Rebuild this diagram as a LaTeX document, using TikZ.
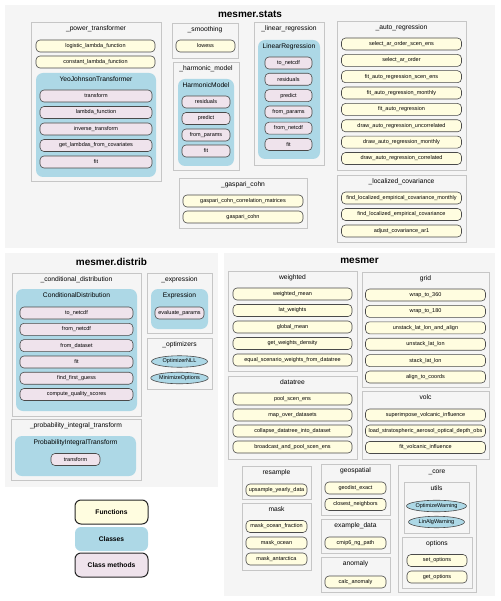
\documentclass[tikz,border=0pt]{standalone}
\usepackage{fontspec}
\setmainfont{Liberation Sans}
\usepackage{xcolor}
\usepackage{tikz}
\usetikzlibrary{shapes.geometric, fit, positioning}
\definecolor{panelbg}{HTML}{F5F5F5}
\definecolor{grpline}{HTML}{C6C6C6}
\definecolor{fnfill}{HTML}{FFFDE0}
\definecolor{clsfill}{HTML}{ADD8E6}
\definecolor{methfill}{HTML}{EFE3EC}
\definecolor{edge}{HTML}{4A4A4A}
\tikzset{
  panel/.style={rectangle, fill=panelbg, inner sep=0pt},
  group/.style={rectangle, draw=grpline, fill=panelbg, line width=0.7pt, inner sep=0pt},
  cls/.style={rectangle, rounded corners=7pt, fill=clsfill, inner sep=0pt},
  func/.style={rectangle, rounded corners=4pt, draw=edge, fill=fnfill, line width=0.6pt, minimum height=12pt, inner sep=0pt, font=\fontsize{5.5}{6.5}\selectfont},
  meth/.style={func, fill=methfill},
  exc/.style={ellipse, draw=edge, fill=clsfill, line width=0.6pt, minimum height=11.5pt, inner sep=0pt, font=\fontsize{5.5}{6.5}\selectfont},
  ptitle/.style={inner sep=0pt, font=\fontsize{10}{12}\selectfont\bfseries},
  gtitle/.style={inner sep=0pt, text height=4.8pt, text depth=1.3pt, font=\fontsize{6.7}{8}\selectfont},
  legend/.style={rectangle, rounded corners=6pt, draw=black!85, line width=1pt, minimum width=73pt, minimum height=24pt, font=\fontsize{6.7}{8}\selectfont\bfseries},
}

\begin{document}
\begin{tikzpicture}[x=1pt, y=-1pt]
\useasboundingbox (0,0) rectangle (500,601);

% mesmer.stats
\node[panel, fit={(5,5) (495,248)}] (stats) {};
\node[ptitle, below=5.5pt of stats.north] (statsT) {mesmer.stats};

\node[group, fit={(31,22) (161,181)}] (powtr) {};
\node[gtitle, below=4pt of powtr.north] (powtrT) {\_power\_transformer};
\node[func, minimum width=119pt] (logistic) at (95.5,46) {logistic\_lambda\_function};
\node[func, minimum width=119pt] (constant) at (95.5,62) {constant\_lambda\_function};
\node[cls, fit={(36,73) (156,177)}] (yeojt) {};
\node[gtitle, below=4pt of yeojt.north] (yeojtT) {YeoJohnsonTransformer};
\node[meth, minimum width=112pt] (yjtransform) at (96,96) {transform};
\node[meth, minimum width=112pt] (yjlambda) at (96,112.5) {lambda\_function};
\node[meth, minimum width=112pt] (yjinverse) at (96,129) {inverse\_transform};
\node[meth, minimum width=112pt] (yjlambdas) at (96,145.5) {get\_lambdas\_from\_covariates};
\node[meth, minimum width=112pt] (yjfit) at (96,162) {fit};

\node[group, fit={(172,23) (238,58)}] (smooth) {};
\node[gtitle, below=4pt of smooth.north] (smoothT) {\_smoothing};
\node[func, minimum width=59pt] (lowess) at (205.5,46) {lowess};

\node[group, fit={(173,62) (239,170)}] (harmod) {};
\node[gtitle, below=4pt of harmod.north] (harmodT) {\_harmonic\_model};
\node[cls, fit={(178,79) (234,166)}] (hmcls) {};
\node[gtitle, below=4pt of hmcls.north] (hmclsT) {HarmonicModel};
\node[meth, minimum width=48pt] (hmresid) at (206,102) {residuals};
\node[meth, minimum width=48pt] (hmpredict) at (206,118.5) {predict};
\node[meth, minimum width=48pt] (hmparams) at (206,135) {from\_params};
\node[meth, minimum width=48pt] (hmfit) at (206,151) {fit};

\node[group, fit={(254,22) (324,165)}] (linreg) {};
\node[gtitle, below=4pt of linreg.north] (linregT) {\_linear\_regression};
\node[cls, fit={(258,40) (320,159)}] (lrcls) {};
\node[gtitle, below=4pt of lrcls.north] (lrclsT) {LinearRegression};
\node[meth, minimum width=47pt] (lrtonc) at (288.5,63) {to\_netcdf};
\node[meth, minimum width=47pt] (lrresid) at (288.5,79.3) {residuals};
\node[meth, minimum width=47pt] (lrpredict) at (288.5,95.6) {predict};
\node[meth, minimum width=47pt] (lrparams) at (288.5,112) {from\_params};
\node[meth, minimum width=47pt] (lrfromnc) at (288.5,128.2) {from\_netcdf};
\node[meth, minimum width=47pt] (lrfit) at (288.5,144.5) {fit};

\node[group, fit={(337,21) (466,170)}] (autoreg) {};
\node[gtitle, below=4pt of autoreg.north] (autoregT) {\_auto\_regression};
\node[func, minimum width=120pt] (arselscen) at (401.5,44) {select\_ar\_order\_scen\_ens};
\node[func, minimum width=120pt] (arsel) at (401.5,60.4) {select\_ar\_order};
\node[func, minimum width=120pt] (arfitscen) at (401.5,76.7) {fit\_auto\_regression\_scen\_ens};
\node[func, minimum width=120pt] (arfitmon) at (401.5,93) {fit\_auto\_regression\_monthly};
\node[func, minimum width=120pt] (arfit) at (401.5,109.4) {fit\_auto\_regression};
\node[func, minimum width=120pt] (ardrawunc) at (401.5,125.8) {draw\_auto\_regression\_uncorrelated};
\node[func, minimum width=120pt] (ardrawmon) at (401.5,142.1) {draw\_auto\_regression\_monthly};
\node[func, minimum width=120pt] (ardrawcor) at (401.5,158.5) {draw\_auto\_regression\_correlated};

\node[group, fit={(337,175) (466,242)}] (loccov) {};
\node[gtitle, below=4pt of loccov.north] (loccovT) {\_localized\_covariance};
\node[func, minimum width=120pt] (lcmon) at (401.5,198) {find\_localized\_empirical\_covariance\_monthly};
\node[func, minimum width=120pt] (lcfind) at (401.5,214.5) {find\_localized\_empirical\_covariance};
\node[func, minimum width=120pt] (lcadjust) at (401.5,231) {adjust\_covariance\_ar1};

\node[group, fit={(179,178) (307,228)}] (gaspari) {};
\node[gtitle, below=4pt of gaspari.north] (gaspariT) {\_gaspari\_cohn};
\node[func, minimum width=120pt] (gcmatrices) at (243,201) {gaspari\_cohn\_correlation\_matrices};
\node[func, minimum width=120pt] (gcfunc) at (243,217) {gaspari\_cohn};

% mesmer.distrib
\node[panel, fit={(5,253) (218,487)}] (distrib) {};
\node[ptitle, below=5.5pt of distrib.north] (distribT) {mesmer.distrib};

\node[group, fit={(12,273) (141,416)}] (conddist) {};
\node[gtitle, below=4pt of conddist.north] (conddistT) {\_conditional\_distribution};
\node[cls, fit={(16,289) (137,411)}] (cdcls) {};
\node[gtitle, below=4pt of cdcls.north] (cdclsT) {ConditionalDistribution};
\node[meth, minimum width=113pt] (cdtonc) at (76.5,313) {to\_netcdf};
\node[meth, minimum width=113pt] (cdfromnc) at (76.5,329.3) {from\_netcdf};
\node[meth, minimum width=113pt] (cdfromds) at (76.5,345.6) {from\_dataset};
\node[meth, minimum width=113pt] (cdfit) at (76.5,362) {fit};
\node[meth, minimum width=113pt] (cdguess) at (76.5,378.2) {find\_first\_guess};
\node[meth, minimum width=113pt] (cdscores) at (76.5,394.5) {compute\_quality\_scores};

\node[group, fit={(147,273) (212,333)}] (expr) {};
\node[gtitle, below=4pt of expr.north] (exprT) {\_expression};
\node[cls, fit={(151,289) (208,329)}] (excls) {};
\node[gtitle, below=4pt of excls.north] (exclsT) {Expression};
\node[meth, minimum width=49pt] (exeval) at (179.5,313) {evaluate\_params};

\node[group, fit={(147,338) (212,389)}] (optim) {};
\node[gtitle, below=4pt of optim.north] (optimT) {\_optimizers};
\node[exc, minimum width=56pt] (optnll) at (179.5,361.5) {OptimizerNLL};
\node[exc, minimum width=56pt] (minopts) at (179.5,378) {MinimizeOptions};

\node[group, fit={(11,419) (141,480)}] (probint) {};
\node[gtitle, below=4pt of probint.north] (probintT) {\_probability\_integral\_transform};
\node[cls, fit={(15,436) (136,476)}] (pitcls) {};
\node[gtitle, below=4pt of pitcls.north] (pitclsT) {ProbabilityIntegralTransform};
\node[meth, minimum width=49pt] (pittransform) at (75.5,459.5) {transform};

% legend
\node[legend, fill=fnfill] (legfunc) at (111.5,512) {Functions};
\node[legend, fill=clsfill, draw=none] (legcls) at (111.5,539) {Classes};
\node[legend, fill=methfill] (legmeth) at (111.5,565) {Class methods};

% mesmer
\node[panel, fit={(224,253) (495,596)}] (mesmer) {};
\node[ptitle, below=5.5pt of mesmer.north] (mesmerT) {mesmer};

\node[group, fit={(228,271) (357,371)}] (weighted) {};
\node[gtitle, below=4pt of weighted.north] (weightedT) {weighted};
\node[func, minimum width=119pt] (wmean) at (292.5,294) {weighted\_mean};
\node[func, minimum width=119pt] (latw) at (292.5,310.5) {lat\_weights};
\node[func, minimum width=119pt] (gmean) at (292.5,327) {global\_mean};
\node[func, minimum width=119pt] (wdens) at (292.5,343.5) {get\_weights\_density};
\node[func, minimum width=119pt] (eqscen) at (292.5,360) {equal\_scenario\_weights\_from\_datatree};

\node[group, fit={(228,376) (357,459)}] (datatree) {};
\node[gtitle, below=4pt of datatree.north] (datatreeT) {datatree};
\node[func, minimum width=119pt] (poolscen) at (292.5,399) {pool\_scen\_ens};
\node[func, minimum width=119pt] (mapover) at (292.5,415) {map\_over\_datasets};
\node[func, minimum width=119pt] (collapse) at (292.5,431) {collapse\_datatree\_into\_dataset};
\node[func, minimum width=119pt] (bcpool) at (292.5,447) {broadcast\_and\_pool\_scen\_ens};

\node[group, fit={(362,272) (489,387)}] (grid) {};
\node[gtitle, below=4pt of grid.north] (gridT) {grid};
\node[func, minimum width=120pt] (wrap360) at (425.5,295) {wrap\_to\_360};
\node[func, minimum width=120pt] (wrap180) at (425.5,311.4) {wrap\_to\_180};
\node[func, minimum width=120pt] (unstackalign) at (425.5,327.8) {unstack\_lat\_lon\_and\_align};
\node[func, minimum width=120pt] (unstack) at (425.5,344.2) {unstack\_lat\_lon};
\node[func, minimum width=120pt] (stack) at (425.5,360.6) {stack\_lat\_lon};
\node[func, minimum width=120pt] (aligncoords) at (425.5,377) {align\_to\_coords};

\node[group, fit={(362,391) (489,459)}] (volc) {};
\node[gtitle, below=4pt of volc.north] (volcT) {volc};
\node[func, minimum width=120pt] (superimpose) at (425.5,415) {superimpose\_volcanic\_influence};
\node[func, minimum width=120pt] (loadstrat) at (425.5,431) {load\_stratospheric\_aerosol\_optical\_depth\_obs};
\node[func, minimum width=120pt] (fitvolc) at (425.5,447.5) {fit\_volcanic\_influence};

\node[group, fit={(242,466) (311,499)}] (resample) {};
\node[gtitle, below=4pt of resample.north] (resampleT) {resample};
\node[func, minimum width=61pt] (upsample) at (276.5,490) {upsample\_yearly\_data};

\node[group, fit={(242,503) (311,570)}] (mask) {};
\node[gtitle, below=4pt of mask.north] (maskT) {mask};
\node[func, minimum width=61pt] (maskfrac) at (276.5,526.5) {mask\_ocean\_fraction};
\node[func, minimum width=61pt] (maskocean) at (276.5,543) {mask\_ocean};
\node[func, minimum width=61pt] (maskant) at (276.5,559) {mask\_antarctica};

\node[group, fit={(321,464) (390,515)}] (geospatial) {};
\node[gtitle, below=4pt of geospatial.north] (geospatialT) {geospatial};
\node[func, minimum width=61pt] (geodist) at (355.5,488) {geodist\_exact};
\node[func, minimum width=61pt] (closest) at (355.5,504.5) {closest\_neighbors};

\node[group, fit={(321,519) (390,553)}] (exdata) {};
\node[gtitle, below=4pt of exdata.north] (exdataT) {example\_data};
\node[func, minimum width=61pt] (cmip) at (355.5,543) {cmip6\_ng\_path};

\node[group, fit={(321,557) (390,592)}] (anomaly) {};
\node[gtitle, below=4pt of anomaly.north] (anomalyT) {anomaly};
\node[func, minimum width=61pt] (calcanom) at (355.5,582) {calc\_anomaly};

\node[group, fit={(398,465) (476,592)}] (core) {};
\node[gtitle, below=4pt of core.north] (coreT) {\_core};
\node[group, fit={(404,482) (469,533)}] (utils) {};
\node[gtitle, below=4pt of utils.north] (utilsT) {utils};
\node[exc, minimum width=60pt] (optwarn) at (436.5,506) {OptimizeWarning};
\node[exc, minimum width=56pt] (linalgwarn) at (436.5,522) {LinAlgWarning};
\node[group, fit={(402,537) (472,588)}] (options) {};
\node[gtitle, below=4pt of options.north] (optionsT) {options};
\node[func, minimum width=60pt] (setopt) at (437,560.5) {set\_options};
\node[func, minimum width=60pt] (getopt) at (437,577) {get\_options};
\end{tikzpicture}
\end{document}
